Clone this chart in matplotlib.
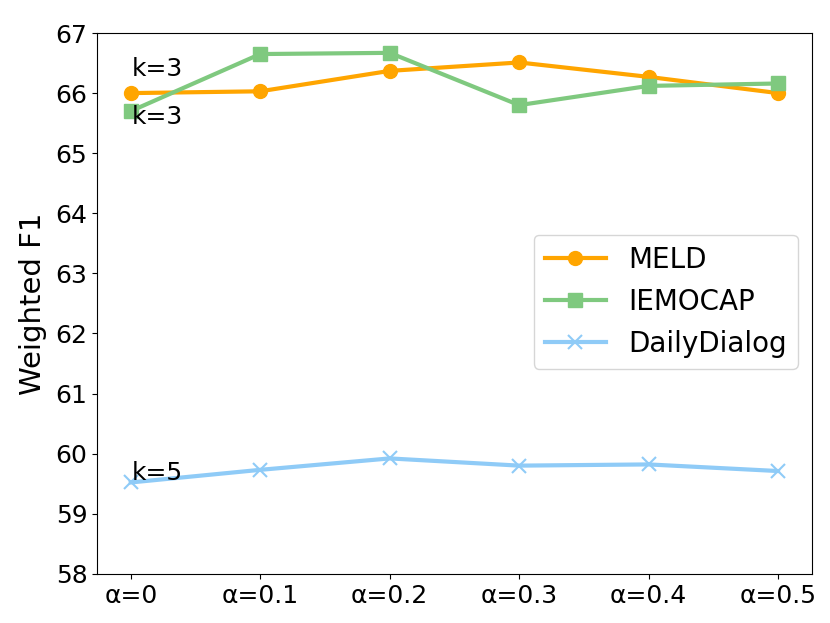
import matplotlib
matplotlib.use('Agg')
import matplotlib.pyplot as plt

alphas = ['α=0', 'α=0.1', 'α=0.2', 'α=0.3', 'α=0.4', 'α=0.5']
meld = [66.00, 66.03, 66.37, 66.51, 66.27, 66.00]
iemocap = [65.70, 66.65, 66.67, 65.80, 66.12, 66.16]
daily = [59.52, 59.73, 59.92, 59.80, 59.82, 59.71]

x = list(range(len(alphas)))

fig, ax = plt.subplots(figsize=(8.3, 6.23), dpi=100)
ax.plot(x, meld, color='#FFA500', marker='o', markersize=10, lw=3, label='MELD')
ax.plot(x, iemocap, color='#7FC97F', marker='s', markersize=10, lw=3, label='IEMOCAP')
ax.plot(x, daily, color='#8FCBF7', marker='x', markersize=10, mew=1.5, lw=3, label='DailyDialog')

ax.text(0.01, 66.28, 'k=3', fontsize=18)
ax.text(0.01, 65.48, 'k=3', fontsize=18)
ax.text(0.01, 59.56, 'k=5', fontsize=18)

ax.set_xticks(x)
ax.set_xticklabels(alphas, fontsize=18)
ax.tick_params(axis='y', labelsize=18)
ax.set_ylim(58, 67)
ax.set_xlim(-0.26, 5.26)
ax.set_ylabel('Weighted F1', fontsize=21, labelpad=6)
ax.legend(fontsize=20, loc='center right', bbox_to_anchor=(1.0, 0.503),
          handlelength=2.2)

fig.subplots_adjust(left=0.117, right=0.978, top=0.947, bottom=0.079)
fig.savefig('out.png', dpi=100)
